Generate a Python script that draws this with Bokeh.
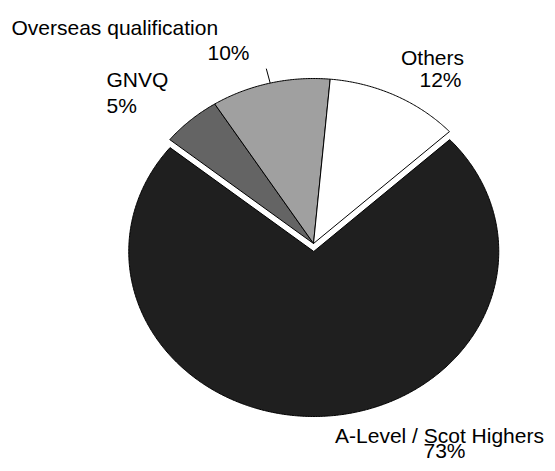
import math
from bokeh.plotting import figure
from bokeh.models import Range1d, ColumnDataSource
from bokeh.core.properties import value
from bokeh.embed import file_html
from bokeh.resources import INLINE

# ---- data ----
categories = ["A-Level / Scot Highers", "GNVQ", "Overseas qualification", "Others"]
values = [72.7, 5.2, 10.4, 11.7]
pct_labels = ["73%", "5%", "10%", "12%"]

# ---- style / layout ----
colors = ["#1f1f1f", "#646464", "#a0a0a0", "#ffffff"]
explode_px = [8, 0, 0, 0]
start_deg = 47.3            # clockwise from 12 o'clock
W, H = 547, 463
CX, CY = 313, 243           # pie centre in pixels
RX, RY = 185, 165           # pixels per data unit (elliptical pie)
TEXT_DY = -7                # correction for rendered text position

def to_data(px, py):
    return (px - CX) / RX, (CY - py) / RY

p = figure(width=W, height=H, output_backend="svg", toolbar_location=None,
           x_range=Range1d(-CX / RX, (W - CX) / RX),
           y_range=Range1d(-(H - CY) / RY, CY / RY),
           x_axis_type=None, y_axis_type=None, min_border=0)
p.grid.visible = False
p.outline_line_color = None
p.background_fill_color = "white"

total = sum(values)
xs, ys, mids = [], [], []
a = start_deg
for v, ex in zip(values, explode_px):
    span = v / total * 360.0
    a0, a1 = a, a + span
    mid = math.radians((a0 + a1) / 2)
    ox = ex / RX * math.sin(mid)
    oy = ex / RY * math.cos(mid)
    n = max(4, int(span * 2))
    px_ = [ox]
    py_ = [oy]
    for i in range(n + 1):
        t = math.radians(a0 + (a1 - a0) * i / n)
        px_.append(ox + math.sin(t))
        py_.append(oy + math.cos(t))
    xs.append(px_)
    ys.append(py_)
    mids.append((a0 + a1) / 2)
    a = a1

p.patches(xs=xs, ys=ys, fill_color=colors, line_color="black", line_width=1)

# leader line for Overseas qualification
m = math.radians(mids[2])
p.line(x=[math.sin(m), 1.09 * math.sin(m)], y=[math.cos(m), 1.09 * math.cos(m)],
       line_color="black", line_width=1)

# labels (pixel anchors: x, baseline y, align)
label_pos = {
    0: [(439, 442, "center"), (444, 457, "center")],
    1: [(106, 86, "left"), (106, 112, "left")],
    2: [(11, 34, "left"), (207, 59, "left")],
    3: [(432, 64, "center"), (440, 86, "center")],
}
tx, ty, tt, ta = [], [], [], []
for i, (cat, pl) in enumerate(zip(categories, pct_labels)):
    for txt, (lx, ly, al) in zip([cat, pl], label_pos[i]):
        dx, dy = to_data(lx, ly + TEXT_DY)
        tx.append(dx); ty.append(dy); tt.append(txt); ta.append(al)

src = ColumnDataSource(dict(x=tx, y=ty, text=tt, align=ta))
p.text(x="x", y="y", text="text", text_align="align", source=src,
       text_baseline="alphabetic", text_font=value("Liberation Sans"),
       text_font_size="21px", text_color="black")

open("out.html", "w").write(file_html(p, INLINE))
